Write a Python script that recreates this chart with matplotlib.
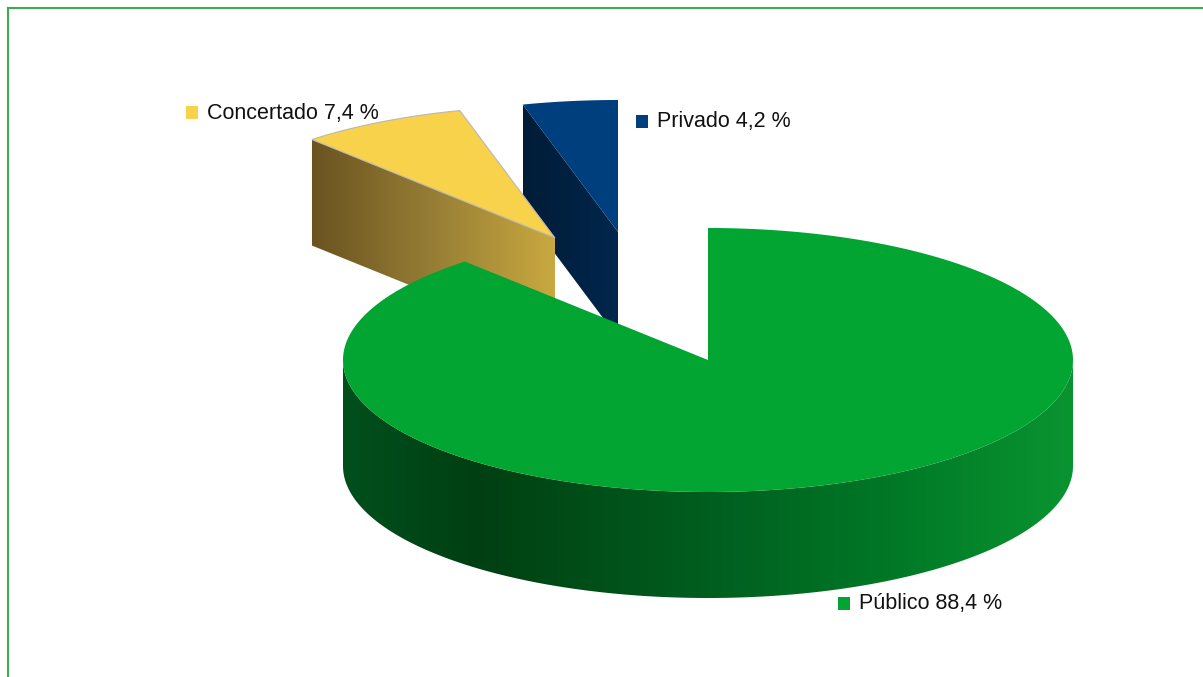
import numpy as np
import matplotlib
matplotlib.use("Agg")
import matplotlib.pyplot as plt
from matplotlib.patches import Polygon, Rectangle
from matplotlib.colors import LinearSegmentedColormap

# ── Data ──────────────────────────────────────────────────────────────────────
categories = ["Público", "Concertado", "Privado"]
shares     = [88.4, 7.4, 4.2]

# ── Styling / layout (pixel space) ────────────────────────────────────────────
top_colors  = ["#02A432", "#F8D24B", "#003F7E"]
wall_colors = [[(0.0, "#00501C"), (0.18, "#003F12"), (0.5, "#005E1F"),
                (0.75, "#007826"), (1.0, "#0A9430")],
               [(0.0, "#6A5320"), (0.5, "#977E35"), (1.0, "#C9A940")],
               [(0.0, "#001C37"), (0.5, "#002142"), (1.0, "#00274C")]]
edge_colors = ["none", "#B8B8B8", "none"]
centers     = [(708, 360), (555, 238), (618, 232)]   # exploded slice centres
RX, RY      = 365, 132     # ellipse radii of the pie top
DEPTH       = 106          # thickness of the pie
label_pos   = [(844, 603), (192, 112), (642, 121)]
draw_order  = [2, 1, 0]    # back slices first
zbase       = {2: 1, 1: 4, 0: 7}


def rim(cx, cy, theta, dy=0.0):
    """theta in degrees, clockwise from 12 o'clock"""
    t = np.radians(theta)
    return np.column_stack([cx + RX * np.sin(t), cy - RY * np.cos(t) + dy])


def gradient_fill(ax, verts, colors, z):
    verts = np.asarray(verts)
    poly = Polygon(verts, closed=True, facecolor="none", edgecolor="none", zorder=z)
    ax.add_patch(poly)
    cmap = LinearSegmentedColormap.from_list("wall", colors)
    grad = np.linspace(0, 1, 256).reshape(1, -1)
    im = ax.imshow(grad, cmap=cmap, aspect="auto", interpolation="bilinear",
                   extent=[verts[:, 0].min(), verts[:, 0].max(),
                           verts[:, 1].max(), verts[:, 1].min()], zorder=z)
    im.set_clip_path(poly)


fig = plt.figure(figsize=(12.03, 6.77), dpi=100)
ax = fig.add_axes([0, 0, 1, 1])
ax.set_autoscale_on(False)
ax.set_xlim(0, 1203)
ax.set_ylim(677, 0)
ax.axis("off")

# slice angle ranges: first slice starts at 12 o'clock, going clockwise
bounds = np.concatenate([[0], np.cumsum(shares) / sum(shares) * 360])

for i in draw_order:
    t0, t1 = bounds[i], bounds[i + 1]
    cx, cy = centers[i]
    z = zbase[i]

    # outer curved wall, only the front half faces the viewer
    w0, w1 = max(t0, 90), min(t1, 270)
    if w1 > w0:
        th = np.linspace(w0, w1, 200)
        wall = np.vstack([rim(cx, cy, th), rim(cx, cy, th[::-1], DEPTH)])
        gradient_fill(ax, wall, wall_colors[i], z)

    # radial cut faces
    for t, side in [(t0, -1), (t1, 1)]:
        if side * np.sin(np.radians(t)) > 1e-6:
            p = rim(cx, cy, [t])[0]
            face = [(cx, cy), p, (p[0], p[1] + DEPTH), (cx, cy + DEPTH)]
            gradient_fill(ax, face, wall_colors[i], z)

    # top face
    th = np.linspace(t0, t1, 300)
    top = np.vstack([[cx, cy], rim(cx, cy, th)])
    ax.add_patch(Polygon(top, closed=True, facecolor=top_colors[i],
                         edgecolor=edge_colors[i], lw=0.8, zorder=z + 1))

# labels with colour keys
for i, (lx, ly) in enumerate(label_pos):
    ax.add_patch(Rectangle((lx - 6, ly - 6.5), 12, 13, facecolor=top_colors[i],
                           edgecolor="none", zorder=10))
    txt = f"{categories[i]} {shares[i]:.1f} %".replace(".", ",")
    ax.text(lx + 15, ly + 1, txt, fontsize=15.5, family=["Liberation Sans", "DejaVu Sans"],
            color="#111111", va="center", ha="left", zorder=10)

# chart frame
ax.plot([8, 8], [8, 677], color="#3FAA50", lw=1.5, zorder=11)
ax.plot([8, 1203], [8, 8], color="#3FAA50", lw=1.5, zorder=11)

fig.savefig("out.png", dpi=100, facecolor="white")
